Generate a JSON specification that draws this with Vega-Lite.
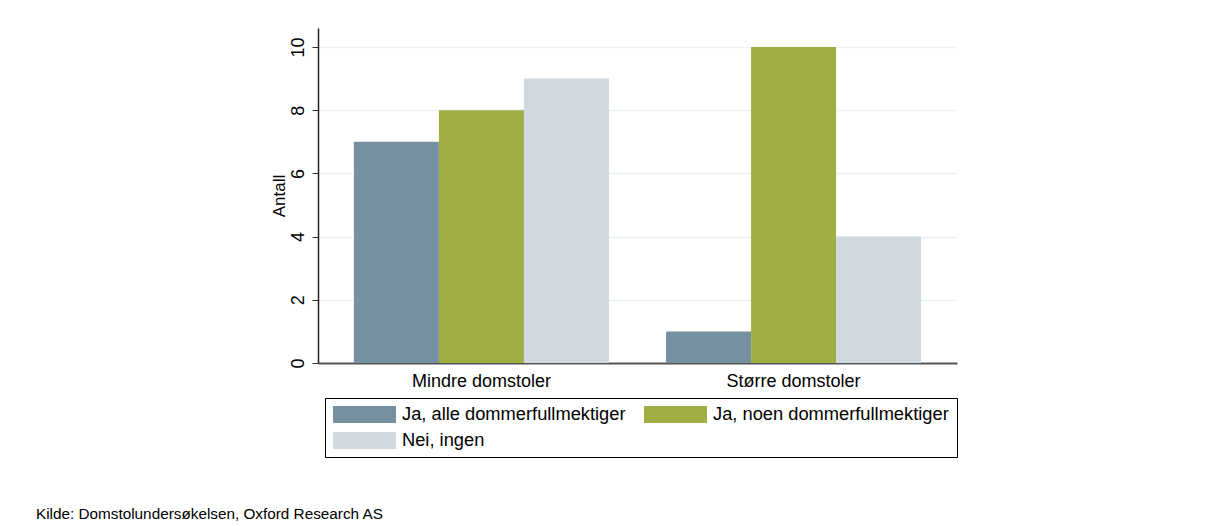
{
  "$schema": "https://vega.github.io/schema/vega-lite/v6.json",
  "width": 639,
  "height": 335,
  "autosize": {"type": "none"},
  "padding": {"left": 318, "top": 28, "right": 248, "bottom": 163},
  "background": "white",
  "title": {
    "text": "Kilde: Domstolundersøkelsen, Oxford Research AS",
    "orient": "bottom",
    "anchor": "start",
    "frame": "group",
    "dx": -282,
    "offset": 49,
    "fontSize": 15.3,
    "fontWeight": "normal",
    "baseline": "top",
    "color": "#000"
  },
  "data": {
    "values": [
      {"gruppe": "Mindre domstoler", "svar": "Ja, alle dommerfullmektiger", "antall": 7},
      {"gruppe": "Mindre domstoler", "svar": "Ja, noen dommerfullmektiger", "antall": 8},
      {"gruppe": "Mindre domstoler", "svar": "Nei, ingen", "antall": 9},
      {"gruppe": "Større domstoler", "svar": "Ja, alle dommerfullmektiger", "antall": 1},
      {"gruppe": "Større domstoler", "svar": "Ja, noen dommerfullmektiger", "antall": 10},
      {"gruppe": "Større domstoler", "svar": "Nei, ingen", "antall": 4}
    ]
  },
  "mark": {"type": "bar"},
  "encoding": {
    "x": {
      "field": "gruppe",
      "type": "nominal",
      "sort": ["Mindre domstoler", "Større domstoler"],
      "scale": {"paddingInner": 0.183, "paddingOuter": 0.115},
      "axis": {
        "title": null,
        "labelAngle": 0,
        "ticks": false,
        "labelPadding": 9,
        "labelFontSize": 18,
        "labelColor": "#000",
        "domainColor": "#555",
        "domainWidth": 2,
        "grid": false
      }
    },
    "y": {
      "field": "antall",
      "type": "quantitative",
      "scale": {"domain": [0, 10.6], "nice": false},
      "axis": {
        "title": "Antall",
        "titleFontSize": 17,
        "titleFontWeight": "normal",
        "titleColor": "#000",
        "titlePadding": 1,
        "values": [0, 2, 4, 6, 8, 10],
        "labelAngle": -90,
        "labelAlign": "center",
        "labelBaseline": "alphabetic",
        "labelFontSize": 18,
        "labelColor": "#000",
        "labelPadding": 9,
        "tickSize": 6,
        "tickColor": "#333",
        "domainColor": "#222",
        "domainWidth": 1.5,
        "grid": true,
        "gridColor": "#eaf2f3",
        "gridWidth": 1.5
      }
    },
    "xOffset": {
      "field": "svar",
      "type": "nominal",
      "sort": ["Ja, alle dommerfullmektiger", "Ja, noen dommerfullmektiger", "Nei, ingen"]
    },
    "color": {
      "field": "svar",
      "type": "nominal",
      "scale": {
        "domain": ["Ja, alle dommerfullmektiger", "Ja, noen dommerfullmektiger", "Nei, ingen"],
        "range": ["#7590a1", "#a0ae43", "#d0d8e0"]
      },
      "legend": {
        "orient": "none",
        "direction": "horizontal",
        "legendX": 7,
        "legendY": 370,
        "columns": 2,
        "title": null,
        "symbolType": "M-1,-0.27L1,-0.27L1,0.27L-1,0.27Z",
        "symbolSize": 3969,
        "symbolStrokeWidth": 0,
        "symbolOpacity": 1,
        "labelFontSize": 18.3,
        "labelColor": "#000",
        "labelOffset": 6,
        "labelLimit": 400,
        "columnPadding": 18,
        "rowPadding": 7,
        "padding": 8,
        "strokeColor": "#000",
        "fillColor": "#fff",
        "clipHeight": 17
      }
    }
  },
  "config": {
    "view": {"stroke": null},
    "font": "Liberation Sans"
  }
}
